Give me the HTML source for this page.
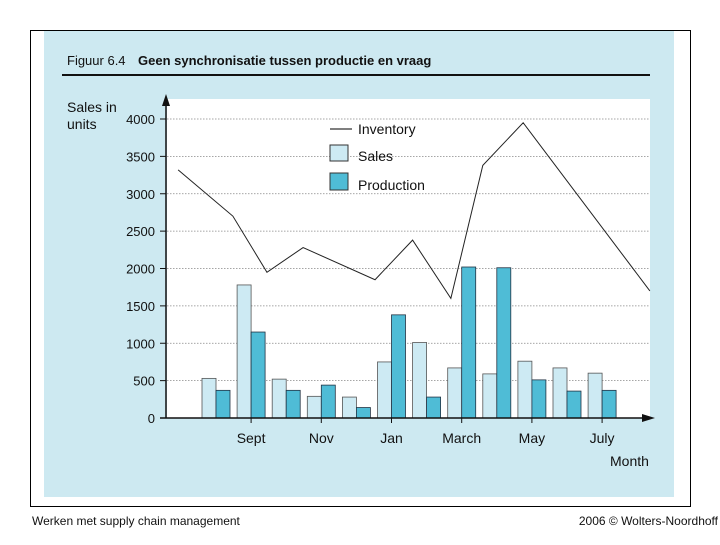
<!DOCTYPE html>
<html><head><meta charset="utf-8"><style>
body{margin:0;background:#fff;font-family:"Liberation Sans",sans-serif;}
</style></head><body>
<svg width="720" height="540" xmlns="http://www.w3.org/2000/svg" font-family="Liberation Sans, sans-serif">
<rect x="30.5" y="30.5" width="660" height="476" fill="none" stroke="#000" stroke-width="1"/>
<rect x="44" y="31" width="630" height="466" fill="#cde9f1"/>
<rect x="167" y="99" width="483" height="319" fill="#fff"/>
<text x="67" y="65" font-size="13" fill="#111">Figuur 6.4</text>
<text x="138" y="65" font-size="13" font-weight="bold" fill="#111">Geen synchronisatie tussen productie en vraag</text>
<rect x="62" y="74" width="588" height="2" fill="#111"/>
<text x="67" y="112" font-size="14" fill="#111">Sales in</text>
<text x="67" y="129" font-size="14" fill="#111">units</text>
<g id="grid"></g><g id="bars"></g><g id="line"></g><g id="axes"></g>
<g>
<line x1="330" y1="129" x2="352" y2="129" stroke="#333" stroke-width="1.2"/>
<text x="358" y="134" font-size="14" fill="#111">Inventory</text>
<rect x="330" y="145" width="18" height="16" fill="#cdeaf3" stroke="#333"/>
<text x="358" y="161" font-size="14" fill="#111">Sales</text>
<rect x="330" y="173" width="18" height="17" fill="#4fbcd6" stroke="#333"/>
<text x="358" y="190" font-size="14" fill="#111">Production</text>
</g>
<text x="610" y="466" font-size="14" fill="#111">Month</text>
<text x="32" y="525" font-size="12" fill="#111">Werken met supply chain management</text>
<text x="718" y="525" font-size="12" fill="#111" text-anchor="end">2006 © Wolters-Noordhoff</text>
</svg>
<script>
const sales=[530,1780,520,290,280,750,1010,670,590,760,670,600];
const production=[370,1150,370,440,140,1380,280,2020,2010,510,360,370];
const invMonth=[-0.68,0.88,1.85,2.88,4.93,6.0,7.09,8.0,9.15,12.76];
const inventory=[3320,2700,1950,2280,1850,2380,1600,3380,3950,1700];
const yTicks=[0,500,1000,1500,2000,2500,3000,3500,4000];
const xLabels=[[1,"Sept"],[3,"Nov"],[5,"Jan"],[7,"March"],[9,"May"],[11,"July"]];
const NS="http://www.w3.org/2000/svg";
const y=v=>418-v*0.07475;
const xm=i=>202+35.1*i;
function mk(t,a,p){const e=document.createElementNS(NS,t);for(const k in a)e.setAttribute(k,a[k]);document.getElementById(p).appendChild(e);return e;}
yTicks.forEach(v=>{
 if(v>0){const g=mk('line',{x1:167,x2:650,y1:y(v),y2:y(v),stroke:'#888','stroke-width':0.8,'stroke-dasharray':'1.5,1.5'},'grid');
 
 }
 const tk=mk('line',{x1:160,x2:166,y1:y(v),y2:y(v),stroke:'#111'},'axes');
 
 
 const t=mk('text',{x:155,y:y(v)+5,'font-size':13,'text-anchor':'end',fill:'#111'},'axes');t.textContent=v;
 
 
});
sales.forEach((v,i)=>{
 const r=mk('rect',{x:xm(i),y:y(v),width:14,height:418-y(v),fill:'#cdeaf3',stroke:'#555','stroke-width':0.8},'bars');
 
 
 const p=mk('rect',{x:xm(i)+14,y:y(production[i]),width:14,height:418-y(production[i]),fill:'#4fbcd6',stroke:'#234','stroke-width':0.8},'bars');
 
 
});
const pl=mk('polyline',{points:invMonth.map((m,i)=>xm(m)+','+y(inventory[i])).join(' '),fill:'none',stroke:'#222','stroke-width':1},'line');


const ya=mk('line',{x1:166,x2:166,y1:100,y2:418,stroke:'#111','stroke-width':1.5},'axes');


const yar=mk('polygon',{points:'162,106 166,94 170,106',fill:'#111'},'axes');


const xa=mk('line',{x1:160,x2:648,y1:418,y2:418,stroke:'#111','stroke-width':1.5},'axes');


const xar=mk('polygon',{points:'642,414 655,418 642,422',fill:'#111'},'axes');


xLabels.forEach(([i,l])=>{
 const cx=xm(i)+14;
 const tk=mk('line',{x1:cx,x2:cx,y1:418,y2:423,stroke:'#111'},'axes');
 
 
 const t=mk('text',{x:cx,y:443,'font-size':14,'text-anchor':'middle',fill:'#111'},'axes');t.textContent=l;
 
 
});
</script>
</body></html>
